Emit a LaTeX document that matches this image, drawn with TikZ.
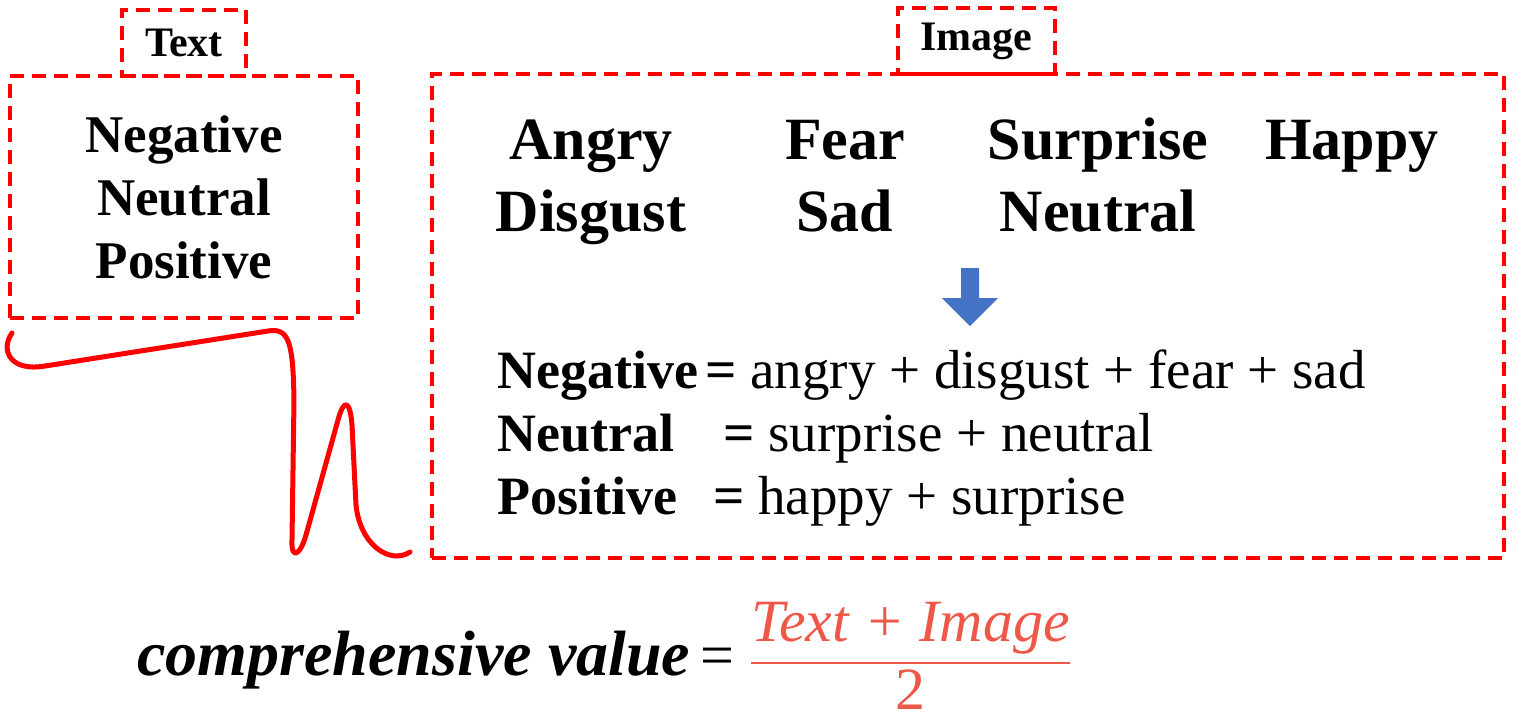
\documentclass[tikz,border=0pt]{standalone}
\usepackage{fontspec}
\setmainfont{Liberation Serif}
\usepackage{amsmath}
\usetikzlibrary{positioning}
\definecolor{boxred}{RGB}{255, 0, 0}
\definecolor{arrowblue}{RGB}{68, 114, 196}
\definecolor{fracred}{RGB}{238, 88, 72}

\begin{document}
\begin{tikzpicture}[x=0.5pt, y=-0.5pt,
  dashbox/.style={draw=boxred, line width=2pt, dash pattern=on 7pt off 4pt, inner sep=0pt},
  tablabel/.style={font=\fontsize{21}{25}\selectfont\bfseries},
  emotion/.style={anchor=base, font=\fontsize{30}{36}\selectfont\bfseries},
  eqname/.style={anchor=base west, inner sep=0pt, font=\fontsize{27}{32}\selectfont\bfseries},
  eqbody/.style={anchor=base west, inner sep=0pt, font=\fontsize{27.5}{32}\selectfont}]
  \useasboundingbox (0,0) rectangle (1522,720);

  % text side
  \node[dashbox, minimum width=174pt, minimum height=121pt, align=center,
        font=\fontsize{26.5}{31.5}\selectfont\bfseries] (textbox) at (184,197) {Negative\\Neutral\\Positive};
  \node[dashbox, tablabel, minimum width=62pt, minimum height=33pt] (texttab) at (184,43) {Text};

  % image side
  \node[dashbox, minimum width=536pt, minimum height=242pt] (imagebox) at (968,316) {};
  \node[dashbox, tablabel, minimum width=78.5pt, minimum height=33pt] (imagetab) at (976.5,41) {Image};

  \node[emotion] (angry) at (591,159) {Angry};
  \node[emotion] (disgust) at (591,231) {Disgust};
  \node[emotion] (fear) at (845,159) {Fear};
  \node[emotion] (sad) at (845,231) {Sad};
  \node[emotion] (surprise) at (1098,159) {Surprise};
  \node[emotion] (neutralimg) at (1098,231) {Neutral};
  \node[emotion] (happy) at (1352,159) {Happy};

  \fill[arrowblue] (961,268) -- (979,268) -- (979,298) -- (998,298) -- (970,326)
    -- (942,298) -- (961,298) -- cycle;

  \node[eqname] (negname) at (497,388) {Negative};
  \node[eqbody] (negsum) at (705,388) {\textbf{=} angry + disgust + fear + sad};
  \node[eqname] (neuname) at (497,451) {Neutral};
  \node[eqbody] (neusum) at (723,451) {\textbf{=} surprise + neutral};
  \node[eqname] (posname) at (497,514) {Positive};
  \node[eqbody] (possum) at (713,514) {\textbf{=} happy + surprise};

  % squiggle between the boxes
  \draw[boxred, line width=2.5pt, line cap=round, line join=round]
    (12,333) .. controls (0,350) and (10,372) .. (45,366) -- (268,331)
    .. controls (290,327) and (293,345) .. (294,400) -- (292,540)
    .. controls (291,560) and (300,556) .. (306,535) -- (338,420)
    .. controls (344,398) and (350,400) .. (352,425) -- (356,505)
    .. controls (360,545) and (390,565) .. (410,552);

  % formula
  \node[anchor=west, inner sep=0pt] (formula) at (137,656) {{\fontsize{32}{38}\selectfont\bfseries\itshape comprehensive value}\hspace{5pt}%
    {\fontsize{30}{36}\selectfont = \color{fracred}$\dfrac{\text{\itshape Text + Image}}{\text{2}}$}};
\end{tikzpicture}
\end{document}
